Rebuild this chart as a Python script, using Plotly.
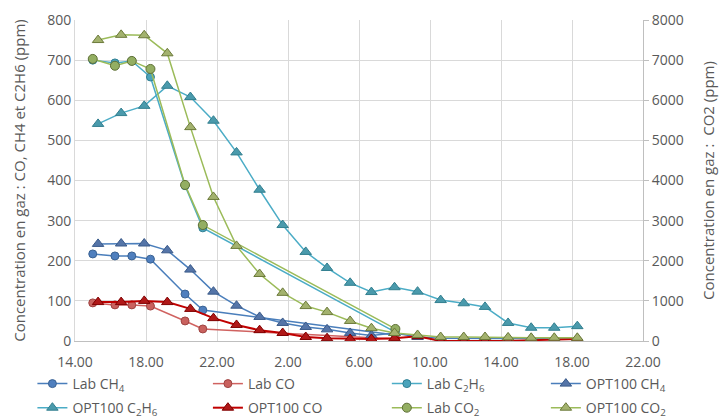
import plotly.graph_objects as go

# ---- data ----
x_lab = [15.0, 16.25, 17.2, 18.25, 20.2, 21.2, 32.05]
lab_ch4 = [217, 212, 212, 204, 117, 77, 15]
lab_co = [95, 90, 90, 87, 50, 30, 5]
lab_c2h6 = [700, 693, 698, 658, 387, 282, 22]
lab_co2 = [7030, 6860, 6980, 6780, 3890, 2890, 300]

x_opt = [15.3, 16.6, 17.9, 19.2, 20.5, 21.8, 23.1, 24.4, 25.7, 27.0, 28.2,
         29.5, 30.7, 32.0, 33.3, 34.6, 35.9, 37.1, 38.4, 39.7, 41.0, 42.3]
opt_ch4 = [242, 243, 243, 226, 178, 123, 88, 60, 45, 35, 29,
           20, 14, 20, 10, 7, 7, 6, 6, 6, 5, 6]
opt_c2h6 = [541, 568, 586, 636, 608, 549, 470, 377, 289, 222, 182,
            145, 122, 134, 123, 102, 94, 85, 45, 33, 33, 37]
opt_co = [97, 97, 100, 97, 80, 57, 40, 27, 20, 10, 7,
          5, 5, 7, 12, 0, 0, 0, 0, 2, 4, 5]
opt_co2 = [7500, 7630, 7620, 7170, 5330, 3590, 2370, 1670, 1200, 870, 720,
           500, 320, 200, 150, 100, 100, 100, 90, 80, 80, 80]

x_tickvals = [14, 18, 22, 26, 30, 34, 38, 42, 46]
x_ticktext = ["14.00", "18.00", "22.00", "2.00", "6.00", "10.00", "14.00", "18.00", "22.00"]
y_tickvals = [0, 100, 200, 300, 400, 500, 600, 700, 800]
y2_tickvals = [0, 1000, 2000, 3000, 4000, 5000, 6000, 7000, 8000]

FONT = "Open Sans"
TXT = "#595959"

fig = go.Figure()

# legend slots: 4 columns x 2 rows
col_x = [-0.075, 0.234, 0.549, 0.829]
row_y = [-0.134, -0.209]
slots = []
for r in range(2):
    for c in range(4):
        slots.append((col_x[c], row_y[r]))

legend_layouts = {}

def add(idx, name, x, y, line_color, marker_color, border, symbol, size, yaxis="y", width=1.5):
    lname = "legend" if idx == 0 else f"legend{idx + 1}"
    fig.add_trace(go.Scatter(
        x=x, y=y, name=name, mode="lines+markers", yaxis=yaxis, legend=lname,
        line=dict(color=line_color, width=width),
        marker=dict(symbol=symbol, size=size, color=marker_color,
                    line=dict(color=border, width=1)),
    ))
    lx, ly = slots[idx]
    legend_layouts[lname] = dict(x=lx, y=ly, xanchor="left", yanchor="middle",
                                 bgcolor="rgba(0,0,0,0)", itemwidth=30,
                                 font=dict(family=FONT, size=14, color=TXT))

add(0, "Lab CH<sub>4</sub>", x_lab, lab_ch4, "#4A7EBB", "#4F7FBE", "#3A6293", "circle", 8)
add(1, "Lab CO", x_lab, lab_co, "#D06260", "#C9615E", "#9E4341", "circle", 8)
add(2, "Lab C<sub>2</sub>H<sub>6</sub>", x_lab, lab_c2h6, "#4BACC6", "#4AA3BB", "#2F7F93", "circle", 8)
add(3, "OPT100 CH<sub>4</sub>", x_opt, opt_ch4, "#4A7EBB", "#5575A8", "#3A5A8A", "triangle-up", 10)
add(4, "OPT100 C<sub>2</sub>H<sub>6</sub>", x_opt, opt_c2h6, "#4BACC6", "#4A9AAC", "#327F8F", "triangle-up", 10)
add(5, "OPT100 CO", x_opt, opt_co, "#C00000", "#B01818", "#800000", "triangle-up", 10, width=2)
add(6, "Lab CO<sub>2</sub>", x_lab, lab_co2, "#9BBB59", "#93AE62", "#5E6F35", "circle", 9, yaxis="y2")
add(7, "OPT100 CO<sub>2</sub>", x_opt, opt_co2, "#9BBB59", "#A3B26E", "#6C7A3A", "triangle-up", 10, yaxis="y2")

fig.update_layout(
    width=722, height=418,
    margin=dict(l=75, r=79, t=20, b=77, autoexpand=False),
    paper_bgcolor="white", plot_bgcolor="white",
    font=dict(family=FONT, size=14, color=TXT),
    showlegend=True,
    xaxis=dict(range=[14, 46], tickvals=x_tickvals, ticktext=x_ticktext,
               showgrid=True, gridcolor="#D9D9D9", gridwidth=1,
               showline=True, linecolor="#BFBFBF", zeroline=False,
               ticks="", ticklabelstandoff=8, tickfont=dict(size=14, color=TXT)),
    yaxis=dict(range=[0, 800], tickvals=y_tickvals,
               showgrid=True, gridcolor="#D9D9D9", gridwidth=1,
               showline=True, linecolor="#D9D9D9", zeroline=False,
               ticks="", tickfont=dict(size=14, color=TXT),
               title=dict(text="Concentration en gaz : CO, CH4 et C2H6 (ppm)",
                          font=dict(size=15, color=TXT), standoff=17)),
    yaxis2=dict(range=[0, 8000], tickvals=y2_tickvals, overlaying="y", side="right",
                showgrid=False, showline=True, linecolor="#BFBFBF", zeroline=False,
                ticks="outside", ticklen=5, tickcolor="#BFBFBF",
                tickfont=dict(size=14, color=TXT),
                title=dict(text="Concentration en gaz :  CO2 (ppm)",
                           font=dict(size=15, color=TXT), standoff=20)),
    **legend_layouts,
)

fig.write_html("out.html", config={"displayModeBar": False},
               post_script="document.body.style.margin='0px';document.body.style.overflow='hidden';")
